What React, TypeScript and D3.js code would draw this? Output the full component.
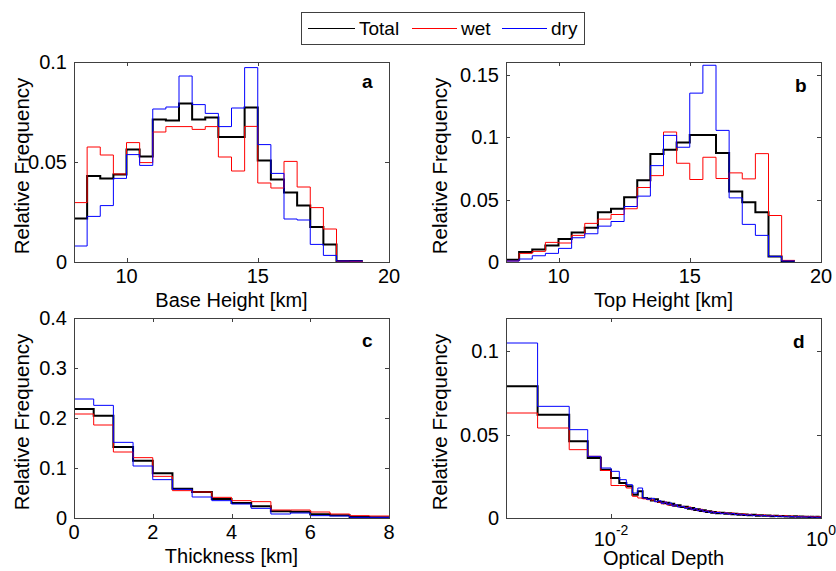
import React from "react";
import * as d3 from "d3";

// ---------- DATA ----------
const seriesNames = ["Total", "wet", "dry"];

// Panel a: Base Height [km], bins of 0.5 km from 8 to 19
const baseEdges = d3.range(8, 19.001, 0.5);
const baseTotal = [0.0217,0.043,0.0417,0.0437,0.0562,0.0528,0.0713,0.0707,0.0792,0.0713,0.0723,0.0625,0.0625,0.0773,0.0508,0.0413,0.0348,0.0282,0.0175,0.0088,0.0005,0.0005];
const baseWet = [0.0297,0.0575,0.0535,0.044,0.0597,0.0497,0.065,0.0677,0.0677,0.0663,0.0677,0.0525,0.0455,0.0678,0.0395,0.037,0.0503,0.0375,0.0272,0.0165,0.0004,0.0003];
const baseDry = [0.008,0.0228,0.0282,0.0418,0.0537,0.0483,0.0765,0.0775,0.093,0.0787,0.0743,0.0677,0.077,0.0972,0.0587,0.0443,0.0215,0.021,0.0088,0.0033,0.0005,0.0005];

// Panel b: Top Height [km]
const topEdges = d3.range(8, 19.001, 0.5);
const topTotal = [0.0019,0.008,0.010,0.0133,0.0184,0.0237,0.0274,0.0399,0.0426,0.0519,0.0654,0.0864,0.0899,0.0957,0.1016,0.1016,0.0872,0.0564,0.0479,0.0399,0.0045,0.0008];
const topWet = [0.0008,0.0069,0.0085,0.0157,0.0152,0.0213,0.0309,0.0343,0.038,0.0426,0.0596,0.0691,0.104,0.079,0.066,0.0838,0.0668,0.0713,0.0665,0.0867,0.0372,0.0013];
const topDry = [0.0008,0.0024,0.005,0.0069,0.0109,0.0194,0.0226,0.0287,0.0324,0.0444,0.0527,0.0771,0.1013,0.0918,0.1351,0.1574,0.1053,0.0513,0.0301,0.0213,0.0045,0.0008];

// Panel c: Thickness [km]
const thickEdges = d3.range(0, 8.001, 0.5);
const thickTotal = [0.218,0.2047,0.142,0.1147,0.0893,0.0587,0.052,0.038,0.030,0.0233,0.0133,0.0127,0.0073,0.0053,0.002,0.0013];
const thickWet = [0.208,0.186,0.132,0.1207,0.0833,0.0547,0.052,0.0413,0.0347,0.0327,0.016,0.016,0.012,0.008,0.0047,0.004];
const thickDry = [0.238,0.2253,0.1513,0.104,0.0767,0.0573,0.042,0.0347,0.028,0.0193,0.008,0.010,0.0047,0.004,0.0013,0.0013];

// Panel d: Optical Depth (log axis)
const odEdges = [0.001,0.002,0.004,0.006,0.008,0.010,0.012,0.014,0.016,0.018,0.020,0.022,0.024,0.026,0.028,0.030,0.032,0.034,0.036,0.038,0.040,0.043,0.046,0.050,0.054,0.058,0.062,0.066,0.070,0.075,0.080,0.085,0.090,0.095,0.10,0.11,0.12,0.13,0.14,0.15,0.16,0.17,0.18,0.19,0.20,0.22,0.24,0.26,0.28,0.30,0.33,0.36,0.39,0.42,0.45,0.48,0.51,0.55,0.59,0.63,0.67,0.71,0.75,0.80,0.85,0.90,0.95,1.0];
const odTotal = [0.079,0.062,0.046,0.036,0.029,0.024,0.021,0.019,0.014,0.016,0.012,0.0115,0.0105,0.0112,0.0096,0.0098,0.0088,0.0092,0.0080,0.0085,0.0074,0.0076,0.0066,0.0068,0.0056,0.0060,0.0048,0.0052,0.0042,0.0046,0.0036,0.0040,0.0032,0.0036,0.0029,0.0031,0.0026,0.0029,0.0023,0.0026,0.0020,0.0023,0.0018,0.0021,0.0016,0.0019,0.0014,0.0017,0.0013,0.0015,0.0011,0.0013,0.0010,0.0012,0.0009,0.0011,0.0008,0.0010,0.0007,0.0009,0.0007,0.0008,0.0006,0.0008,0.0006,0.0007,0.0006];
const odWet = [0.063,0.054,0.041,0.037,0.0285,0.0195,0.0195,0.018,0.013,0.012,0.0115,0.011,0.0108,0.0098,0.0095,0.0085,0.0096,0.0078,0.0082,0.0072,0.0078,0.0068,0.0070,0.0060,0.0066,0.0050,0.0056,0.0044,0.0052,0.0038,0.0044,0.0034,0.0040,0.0030,0.0036,0.0027,0.0032,0.0024,0.0030,0.0022,0.0027,0.0019,0.0025,0.0018,0.0022,0.0015,0.0020,0.0014,0.0018,0.0012,0.0016,0.0011,0.0015,0.0010,0.0014,0.0009,0.0012,0.0008,0.0011,0.0008,0.0010,0.0007,0.0010,0.0007,0.0009,0.0006,0.0008];
const odDry = [0.105,0.067,0.053,0.037,0.030,0.028,0.023,0.020,0.015,0.018,0.012,0.0112,0.0118,0.0098,0.0104,0.0088,0.0095,0.0082,0.0090,0.0072,0.0079,0.0066,0.0070,0.0058,0.0062,0.0050,0.0056,0.0044,0.0049,0.0038,0.0042,0.0033,0.0037,0.0029,0.0033,0.0026,0.0030,0.0023,0.0027,0.0020,0.0024,0.0018,0.0021,0.0016,0.0019,0.0014,0.0017,0.0012,0.0015,0.0011,0.0013,0.0009,0.0012,0.0008,0.0010,0.0007,0.0009,0.0006,0.0008,0.0006,0.0007,0.0005,0.0007,0.0005,0.0006,0.0004,0.0005];

const linTicksAB = [10, 15, 20];
const linTicksC = [0, 2, 4, 6, 8];
const logTicksD = [0.01, 1];
const logTickLabels = [["10", "-2"], ["10", "0"]];
const yTicksA = [0, 0.05, 0.1];
const yTicksB = [0, 0.05, 0.1, 0.15];
const yTicksC = [0, 0.1, 0.2, 0.3, 0.4];
const yTicksD = [0, 0.05, 0.1];

// ---------- STYLE ----------
const COLORS = ["#000000", "#ff0000", "#0000ff"];
const WIDTHS = [2, 1, 1];
const FONT = "Liberation Sans, Arial, Helvetica, sans-serif";
const AX = "#404040";

type Panel = {
  key: string;
  left: number; top: number; w: number; h: number;
  xDomain: [number, number]; yDomain: [number, number];
  log?: boolean;
  xTicks: number[]; yTicks: number[];
  edges: number[]; series: number[][];
  xlabel: string; ylabelX: number;
  letterX: number; letterY: number;
};

const panels: Panel[] = [
  { key: "a", left: 74, top: 62, w: 315, h: 200, xDomain: [8, 20], yDomain: [0, 0.1], xTicks: linTicksAB, yTicks: yTicksA, edges: baseEdges, series: [baseTotal, baseWet, baseDry], xlabel: "Base Height [km]", ylabelX: 29, letterX: 362, letterY: 88 },
  { key: "b", left: 506, top: 62, w: 315, h: 200, xDomain: [8, 20], yDomain: [0, 0.16], xTicks: linTicksAB, yTicks: yTicksB, edges: topEdges, series: [topTotal, topWet, topDry], xlabel: "Top Height [km]", ylabelX: 447, letterX: 795, letterY: 92 },
  { key: "c", left: 74, top: 318, w: 315, h: 200, xDomain: [0, 8], yDomain: [0, 0.4], xTicks: linTicksC, yTicks: yTicksC, edges: thickEdges, series: [thickTotal, thickWet, thickDry], xlabel: "Thickness [km]", ylabelX: 29, letterX: 362, letterY: 347 },
  { key: "d", left: 506, top: 318, w: 315, h: 200, xDomain: [0.001, 1], yDomain: [0, 0.12], log: true, xTicks: logTicksD, yTicks: yTicksD, edges: odEdges, series: [odTotal, odWet, odDry], xlabel: "Optical Depth", ylabelX: 447, letterX: 793, letterY: 348 },
];

function fmt(v: number) {
  return String(+v.toFixed(3));
}

function PanelView({ p }: { p: Panel }) {
  const x = p.log
    ? d3.scaleLog().domain(p.xDomain).range([p.left, p.left + p.w])
    : d3.scaleLinear().domain(p.xDomain).range([p.left, p.left + p.w]);
  const y = d3.scaleLinear().domain(p.yDomain).range([p.top + p.h, p.top]);
  const line = d3
    .line<[number, number]>()
    .x((d) => x(d[0]))
    .y((d) => y(d[1]))
    .curve(d3.curveStepAfter);
  const bottom = p.top + p.h;
  const right = p.left + p.w;
  const tl = 4;
  const clipId = "clip-" + p.key;
  return (
    <g>
      <defs>
        <clipPath id={clipId}>
          <rect x={p.left} y={p.top - 1} width={p.w} height={p.h + 1} />
        </clipPath>
      </defs>
      <rect x={p.left} y={p.top} width={p.w} height={p.h} fill="#fff" />
      <g clipPath={`url(#${clipId})`}>
        {p.series.map((vals, si) => {
          const pts: [number, number][] = vals.map((v, i) => [p.edges[i], v]);
          pts.push([p.edges[vals.length], vals[vals.length - 1]]);
          return (
            <path key={si} d={line(pts) || ""} fill="none" stroke={COLORS[si]} strokeWidth={WIDTHS[si]} strokeLinejoin="miter" />
          );
        })}
      </g>
      <rect x={p.left + 0.5} y={p.top + 0.5} width={p.w} height={p.h} fill="none" stroke={AX} strokeWidth={1} />
      {p.xTicks.map((t, i) => {
        const xx = Math.round(x(t)) + 0.5;
        return (
          <g key={"xt" + i}>
            <line x1={xx} x2={xx} y1={bottom} y2={bottom - tl} stroke={AX} />
            <line x1={xx} x2={xx} y1={p.top} y2={p.top + tl} stroke={AX} />
            {p.log ? (
              <text x={x(t)} y={bottom + 28} textAnchor="middle" fontSize={20} fontFamily={FONT} fill="#000">
                <tspan>{logTickLabels[i][0]}</tspan>
                <tspan dy={-11} fontSize={14}>{logTickLabels[i][1]}</tspan>
              </text>
            ) : (
              <text x={x(t)} y={bottom + 21} textAnchor="middle" fontSize={20} fontFamily={FONT} fill="#000">
                {fmt(t)}
              </text>
            )}
          </g>
        );
      })}
      {p.yTicks.map((t, i) => {
        const yy = Math.round(y(t)) + 0.5;
        return (
          <g key={"yt" + i}>
            <line x1={p.left} x2={p.left + tl} y1={yy} y2={yy} stroke={AX} />
            <line x1={right} x2={right - tl} y1={yy} y2={yy} stroke={AX} />
            <text x={p.left - 7} y={y(t) + 7} textAnchor="end" fontSize={20} fontFamily={FONT} fill="#000">
              {fmt(t)}
            </text>
          </g>
        );
      })}
      <text x={p.left + p.w / 2} y={bottom + (p.log ? 47 : 45)} textAnchor="middle" fontSize={20} fontFamily={FONT} fill="#000">
        {p.xlabel}
      </text>
      <text
        transform={`translate(${p.ylabelX},${p.top + p.h / 2 + 4}) rotate(-90)`}
        textAnchor="middle"
        fontSize={20.5}
        fontFamily={FONT}
        fill="#000"
      >
        Relative Frequency
      </text>
      <text x={p.letterX} y={p.letterY} fontSize={19} fontWeight="bold" fontFamily={FONT} fill="#000">
        {p.key}
      </text>
    </g>
  );
}

function Legend() {
  const items = [
    { x1: 308, x2: 355, tx: 359 },
    { x1: 412, x2: 457, tx: 461 },
    { x1: 502, x2: 547, tx: 551 },
  ];
  return (
    <g>
      <rect x={301.5} y={12.5} width={283} height={32} fill="#fff" stroke={AX} strokeWidth={1} />
      {items.map((it, i) => (
        <g key={i}>
          <line x1={it.x1} x2={it.x2} y1={28.5} y2={28.5} stroke={COLORS[i]} strokeWidth={1} />
          <text x={it.tx} y={35} fontSize={19} fontFamily={FONT} fill="#000">
            {seriesNames[i]}
          </text>
        </g>
      ))}
    </g>
  );
}

export default function App() {
  return (
    <svg
      width={836}
      height={571}
      viewBox="0 0 836 571"
      style={{ position: "absolute", left: 0, top: 0, background: "#fff" }}
    >
      <rect width={836} height={571} fill="#fff" />
      {panels.map((p) => (
        <PanelView key={p.key} p={p} />
      ))}
      <Legend />
    </svg>
  );
}
